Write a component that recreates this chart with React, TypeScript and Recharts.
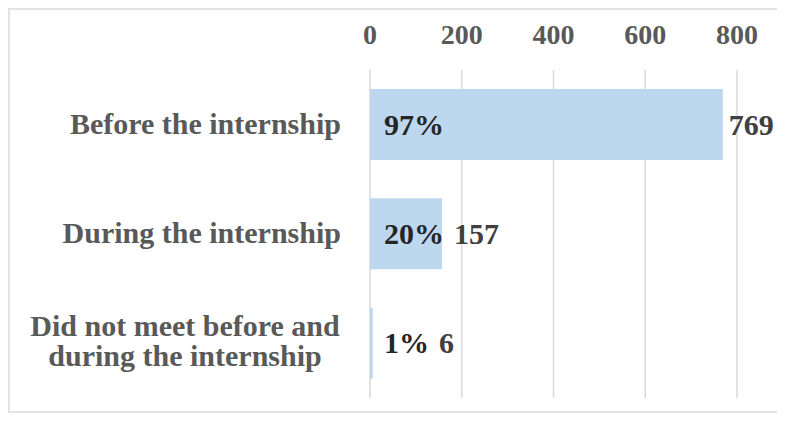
import React from 'react';
import { BarChart, Bar, XAxis, YAxis, CartesianGrid, LabelList } from 'recharts';

const categories = ['Before the internship', 'During the internship', 'Did not meet before and\nduring the internship'];
const counts = [769, 157, 6];
const shares = ['97%', '20%', '1%'];
const xTicks = [0, 200, 400, 600, 800];

const FONT = '"Liberation Serif", "Times New Roman", serif';
const FS = 30;
const TICK_FS = 28;

const data = categories.map((name, i) => ({ name, count: counts[i], share: shares[i] }));

const CategoryTick = (props: any) => {
  const { x, y, payload } = props;
  const lines = String(payload.value).split('\n');
  if (lines.length === 1) {
    return (
      <text x={x - 29} y={y + 9} textAnchor="end" fontFamily={FONT} fontSize={FS} fontWeight="bold" fill="#595959">
        {lines[0]}
      </text>
    );
  }
  // two-line label, lines centred on each other
  return (
    <text x={x - 185} y={y - 7} textAnchor="middle" fontFamily={FONT} fontSize={FS} fontWeight="bold" fill="#595959">
      {lines.map((l, i) => (
        <tspan key={i} x={x - 185} dy={i === 0 ? 0 : 30}>{l}</tspan>
      ))}
    </text>
  );
};

const ValueTick = (props: any) => {
  const { x, y, payload } = props;
  return (
    <text x={x} y={y - 26} textAnchor="middle" fontFamily={FONT} fontSize={TICK_FS} fontWeight="bold" fill="#595959">
      {payload.value}
    </text>
  );
};

const BarLabels = (props: any) => {
  const { x, y, width, height, index } = props;
  const pct = shares[index];
  const start = x + 14;
  const pctEnd = start + FS * (0.5 * (pct.length - 1) + 1);
  const valueX = Math.max(x + width + 6, pctEnd + 10);
  const baseline = y + height / 2 + 10;
  return (
    <g fontFamily={FONT} fontSize={FS} fontWeight="bold">
      <text x={start} y={baseline} fill="#262626">{pct}</text>
      <text x={valueX} y={baseline} fill="#404040">{counts[index]}</text>
    </g>
  );
};

export default function App() {
  return (
    <div style={{ width: 773, height: 405, border: '2px solid #e3e3e3', boxSizing: 'border-box', background: '#fff' }}>
      <BarChart
        width={769}
        height={401}
        data={data}
        layout="vertical"
        margin={{ top: 30, right: 42, bottom: 13, left: 0 }}
        barSize={71}
      >
        <CartesianGrid horizontal={false} stroke="#d9d9d9" strokeWidth={1.5} />
        <XAxis
          type="number"
          orientation="top"
          domain={[0, 800]}
          ticks={xTicks}
          height={30}
          axisLine={false}
          tickLine={false}
          tickSize={0}
          tickMargin={0}
          tick={<ValueTick />}
        />
        <YAxis
          type="category"
          dataKey="name"
          width={360}
          axisLine={false}
          tickLine={false}
          tickSize={0}
          tickMargin={0}
          tick={<CategoryTick />}
          interval={0}
        />
        <Bar dataKey="count" fill="#bdd7ee" isAnimationActive={false}>
          <LabelList dataKey="count" content={<BarLabels />} />
        </Bar>
      </BarChart>
    </div>
  );
}
